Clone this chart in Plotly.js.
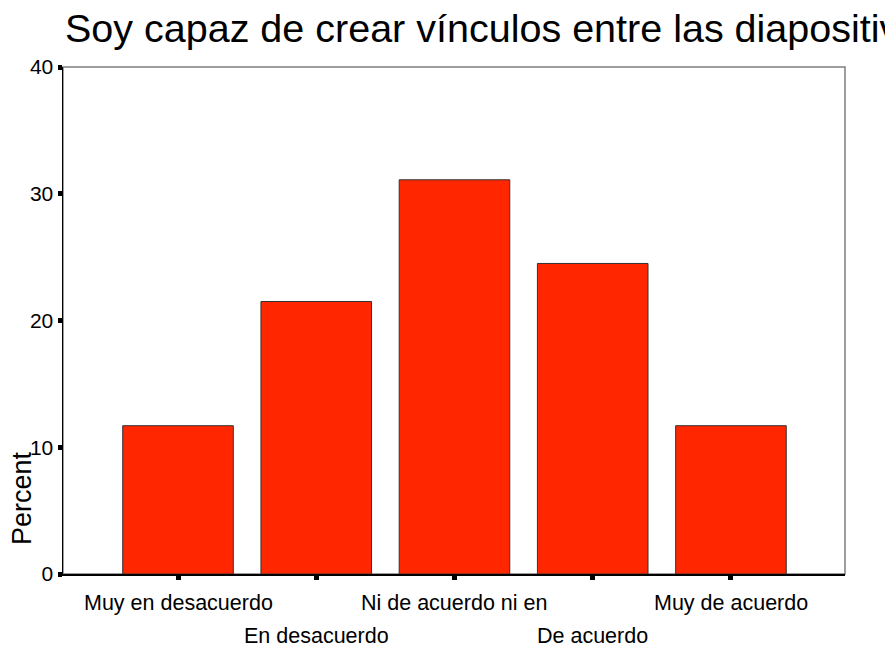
<!DOCTYPE html>
<html>
<head>
<meta charset="utf-8">
<script src="https://cdn.plot.ly/plotly-3.0.1.min.js"></script>
<style>html,body{margin:0;padding:0;background:#fff;}#chart{width:885px;height:650px;}</style>
</head>
<body>
<div id="chart"></div>
<script>
var categories = ["Muy en desacuerdo", "En desacuerdo", "Ni de acuerdo ni en", "De acuerdo", "Muy de acuerdo"];
var percents = [11.7, 21.5, 31.1, 24.5, 11.7];
var yTicks = [0, 10, 20, 30, 40];
var titleText = "Soy capaz de crear vínculos entre las diapositivas";
var yTitle = "Percent";

var FONT = "Liberation Sans, Arial, sans-serif";

var trace = {
  type: "bar",
  x: categories,
  y: percents,
  width: 0.8,
  marker: {color: "#FF2600", line: {color: "#333333", width: 1}},
  hoverinfo: "x+y"
};

var annotations = categories.map(function (c, i) {
  return {
    x: c, xref: "x",
    y: (i % 2 === 0) ? -0.0572 : -0.1223, yref: "paper",
    text: c, showarrow: false,
    xanchor: "center", yanchor: "middle",
    font: {family: FONT, size: 21.5, color: "#000"}
  };
});
annotations.push({
  x: -0.0524, xref: "paper", y: 0.15, yref: "paper",
  text: yTitle, textangle: -90, showarrow: false,
  xanchor: "center", yanchor: "middle",
  font: {family: FONT, size: 27, color: "#000"}
});

var layout = {
  width: 885, height: 650,
  margin: {l: 63, r: 40, t: 67, b: 76},
  paper_bgcolor: "#fff", plot_bgcolor: "#fff",
  showlegend: false,
  title: {
    text: titleText, xref: "container", yref: "container",
    x: 0.0734, xanchor: "left", y: 0.957, yanchor: "middle",
    font: {family: FONT, size: 39.5, color: "#000"}
  },
  xaxis: {
    type: "category",
    range: [-0.832, 4.825],
    showticklabels: false,
    ticks: "outside", ticklen: 4, tickwidth: 5, tickcolor: "#000",
    showline: true, linecolor: "#000", linewidth: 1.5,
    showgrid: false, zeroline: false, fixedrange: true
  },
  yaxis: {
    range: [0, 40],
    tickvals: yTicks, ticktext: yTicks.map(String),
    ticks: "outside", ticklen: 4, tickwidth: 5, tickcolor: "#000",
    tickfont: {family: FONT, size: 21, color: "#000"},
    showline: true, linecolor: "#000", linewidth: 1.5,
    showgrid: false, zeroline: false, fixedrange: true
  },
  shapes: [{
    type: "rect", xref: "paper", yref: "paper", x0: 0, x1: 1, y0: 0, y1: 1,
    line: {color: "#7f7f7f", width: 1.5}, layer: "below"
  }],
  annotations: annotations
};

Plotly.newPlot("chart", [trace], layout, {displayModeBar: false, staticPlot: true});
</script>
</body>
</html>
